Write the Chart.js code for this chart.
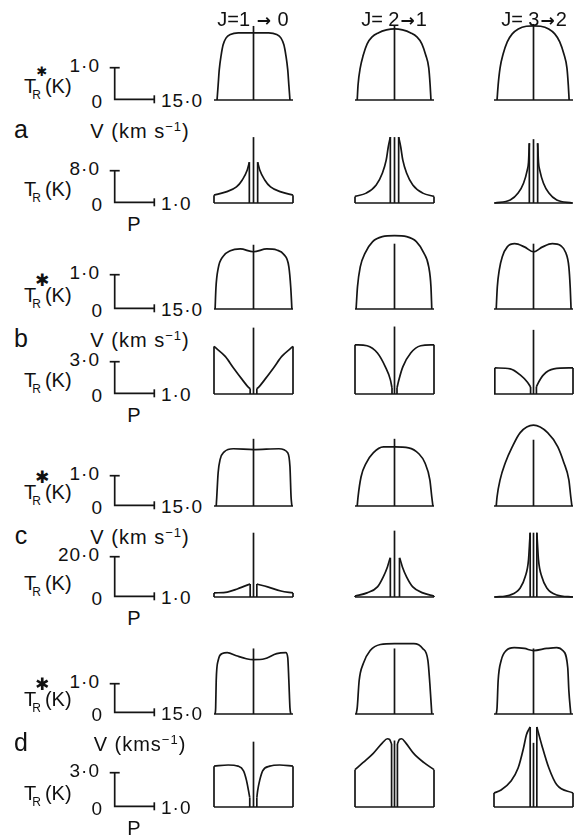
<!DOCTYPE html>
<html>
<head>
<meta charset="utf-8">
<script src="https://cdn.jsdelivr.net/npm/chart.js@4"></script>
<style>
  body { margin: 0; background: #fff; }
  #fig { position: relative; width: 576px; height: 836px; overflow: hidden;
         font-family: "Liberation Sans", Arial, sans-serif; color: #111; }
  #fig canvas { position: absolute; }
  .lbl { position: absolute; white-space: nowrap; line-height: 1; }
  .lbl sup { font-size: 13px; vertical-align: 7px; }
  .sub { font-size: 12px; position: relative; top: 6px; margin-left: -4px; margin-right: 4px; }
  .arr { font-family: "DejaVu Sans", sans-serif; font-weight: bold; font-size: 17px; margin: 0 1px; }
</style>
</head>
<body>
<div id="fig"></div>
<script>
// ---------- data ----------
// column headings and model letters
const transitions = ['J=1 <span class="arr">\u2192</span> 0', 'J= 2<span class="arr">\u2192</span>1', 'J= 3<span class="arr">\u2192</span>2'];
const models = ['a', 'b', 'c', 'd'];

// scale bars: T_R* (K) vs V (km/s) and T_R (K) vs P
const vBarEnd = 15.0;
const pBarEnd = 1.0;
const tStarBar = [1.0, 1.0, 1.0, 1.0];
const tBar = [8.0, 3.0, 20.0, 3.0];
const tStarTick = ['1\u00b70', '1\u00b70', '1\u00b70', '1\u00b70'];
const tTick = ['8\u00b70', '3\u00b70', '20\u00b70', '3\u00b70'];
const vTick = '15\u00b70';
const pTick = '1\u00b70';
const vLabel = ['V (km s<sup>\u22121</sup>)', 'V (km s<sup>\u22121</sup>)', 'V (km s<sup>\u22121</sup>)', 'V (kms<sup>\u22121</sup>)'];

// plotted ranges of each small panel
const vRange = [-14.3, 14.3];
const pRange = [-0.95, 0.95];
const vYMax = [2.45, 2.25, 2.7, 2.45];
const pYMax = [17, 6.6, 33, 7.2];

// line profiles T_R*(V): [V km/s, K]
const aV10 = [[-13.2,0],[-12.8,0.45],[-12.4,0.91],[-11.7,1.36],[-11.0,1.67],[-9.9,1.88],[-8.4,1.98],[-5.5,2.03],[0,2.03],[5.5,2.03],[8.4,1.98],[9.9,1.88],[11.0,1.67],[11.7,1.36],[12.4,0.91],[12.8,0.45],[13.2,0]];
const aV21 = [[-13.5,0],[-13.2,0.45],[-12.4,0.97],[-11.3,1.36],[-9.9,1.70],[-8.1,1.91],[-5.9,2.03],[-2.9,2.12],[0,2.15],[2.9,2.12],[5.9,2.03],[8.1,1.91],[9.9,1.70],[11.3,1.36],[12.4,0.97],[12.9,0.45],[13.2,0]];
const aV32 = [[-13.2,0],[-12.8,0.45],[-12.1,0.97],[-11.0,1.39],[-9.5,1.76],[-7.7,2.0],[-5.5,2.15],[-2.6,2.23],[0,2.24],[2.6,2.23],[5.5,2.15],[7.7,2.0],[9.5,1.76],[11.0,1.39],[12.1,0.97],[12.6,0.45],[12.9,0]];

const bV10 = [[-13.9,0],[-13.6,0.6],[-12.8,1.15],[-11.0,1.5],[-8.4,1.66],[-4.8,1.71],[0,1.63],[4.8,1.71],[8.4,1.68],[11.0,1.55],[12.8,1.2],[13.5,0.6],[13.9,0]];
const bV21 = [[-13.9,0],[-13.4,0.63],[-12.4,1.2],[-10.6,1.6],[-7.9,1.92],[-4.4,2.06],[0,2.09],[4.4,2.06],[7.9,1.92],[10.6,1.6],[12.4,1.2],[13.2,0.63],[13.5,0]];
const bV32 = [[-13.5,0],[-13.1,0.63],[-12.4,1.11],[-11.3,1.49],[-9.5,1.77],[-6.8,1.86],[-3.3,1.77],[0,1.63],[3.3,1.77],[6.8,1.86],[9.9,1.8],[11.7,1.6],[12.8,1.2],[13.3,0.6],[13.6,0]];

const cV10 = [[-13.5,0],[-13.3,0.29],[-12.8,1.07],[-12.1,1.49],[-10.6,1.74],[-7.3,1.84],[0,1.81],[9.2,1.84],[12.4,1.71],[13.2,1.26],[13.6,0.29],[13.9,0]];
const cV21 = [[-13.5,0],[-13.2,0.29],[-12.1,0.94],[-10.2,1.39],[-7.7,1.71],[-4.0,1.90],[0,1.90],[5.1,1.87],[8.8,1.68],[11.0,1.39],[12.8,0.84],[13.5,0.29],[13.9,0]];
const cV32 = [[-13.5,0],[-13.2,0.29],[-12.1,0.84],[-10.2,1.39],[-7.7,1.9],[-4.8,2.36],[0,2.6],[5.1,2.36],[8.8,1.9],[11.0,1.39],[12.8,0.84],[13.5,0.29],[13.9,0]];

const dV10 = [[-13.9,0],[-13.7,0.2],[-13.5,1.1],[-12.8,1.77],[-11.3,2.0],[-9.5,2.03],[-6.2,1.93],[-2.6,1.83],[0,1.8],[4.0,1.83],[8.4,2.0],[11.7,2.03],[12.4,1.87],[12.8,1.1],[13.2,0.2],[13.5,0]];
const dV21 = [[-13.9,0],[-13.5,0.2],[-12.8,1.1],[-11.3,1.67],[-8.8,2.1],[-5.1,2.3],[0,2.33],[7.0,2.33],[10.2,2.17],[12.1,1.77],[12.8,1.0],[13.5,0]];
const dV32 = [[-13.5,0],[-13.2,0.2],[-12.8,1.1],[-11.7,1.77],[-9.9,2.1],[-7.0,2.2],[-3.3,2.17],[0,2.1],[4.8,2.17],[8.4,2.2],[10.6,2.1],[12.4,1.53],[12.8,0.77],[13.5,0]];

// centre line heights of the V panels (K)
const vCentre = [[2.24, 2.24, 2.3], [1.83, 1.86, 1.86], [2.16, 2.16, 2.13], [2.17, 2.17, 2.17]];

// brightness T_R(P): [P, K], left and right halves
const aP10L = [[-0.95,1.9],[-0.66,2.7],[-0.41,3.9],[-0.27,5.6],[-0.15,8.0],[-0.10,9.9]];
const aP10R = [[0.10,9.9],[0.15,8.0],[0.27,5.6],[0.41,3.9],[0.66,2.7],[0.95,1.9]];
const aP21L = [[-0.95,1.6],[-0.68,2.4],[-0.44,4.4],[-0.29,7.3],[-0.20,10.4],[-0.15,13.6],[-0.10,16.0]];
const aP21R = [[0.10,16.0],[0.15,13.6],[0.20,10.4],[0.29,7.3],[0.44,4.4],[0.68,2.4],[0.95,1.6]];
const aP32L = [[-0.93,0],[-0.56,0.7],[-0.37,2.4],[-0.24,4.8],[-0.15,8.0],[-0.12,9.9],[-0.10,14.5]];
const aP32R = [[0.10,14.5],[0.12,9.9],[0.15,8.0],[0.24,4.8],[0.37,2.4],[0.56,0.7],[0.93,0]];

const bP10L = [[-0.95,4.3],[-0.68,3.4],[-0.49,2.4],[-0.27,1.3],[-0.12,0.6],[-0.08,0.5]];
const bP10R = [[0.08,0.5],[0.12,0.6],[0.27,1.3],[0.49,2.4],[0.68,3.4],[0.95,4.3]];
const bP21L = [[-0.95,4.45],[-0.66,4.36],[-0.41,3.7],[-0.22,2.45],[-0.10,1.3],[-0.06,0.55]];
const bP21R = [[0.06,0.55],[0.10,1.2],[0.20,2.45],[0.39,3.7],[0.63,4.36],[0.95,4.45]];
const bP32L = [[-0.93,2.36],[-0.56,2.27],[-0.32,1.73],[-0.15,1.09],[-0.07,0.64]];
const bP32R = [[0.07,0.64],[0.10,0.9],[0.24,1.73],[0.49,2.27],[0.95,2.36]];

const cP10L = [[-0.95,2.0],[-0.63,2.4],[-0.39,3.9],[-0.20,5.4],[-0.08,6.3]];
const cP10R = [[0.08,6.3],[0.34,4.9],[0.66,2.9],[0.95,2.0]];
const cP21L = [[-0.95,0.5],[-0.66,2.0],[-0.41,4.9],[-0.27,9.8],[-0.17,14.6],[-0.12,18.0],[-0.10,19.0]];
const cP21R = [[0.12,19.0],[0.14,18.0],[0.19,14.6],[0.29,9.8],[0.44,4.9],[0.68,2.0],[0.95,0.5]];
const cP32L = [[-0.93,0],[-0.56,1.0],[-0.32,4.4],[-0.20,9.8],[-0.12,18.0],[-0.09,27.8],[-0.08,31.2]];
const cP32R = [[0.08,31.2],[0.09,27.8],[0.12,18.0],[0.20,9.8],[0.32,4.4],[0.56,1.0],[0.95,0]];

const dP10L = [[-0.95,3.5],[-0.61,3.6],[-0.37,3.5],[-0.24,3.1],[-0.17,2.3],[-0.12,1.4],[-0.09,0.8]];
const dP10R = [[0.08,0.8],[0.10,1.4],[0.15,2.3],[0.22,3.1],[0.39,3.5],[0.63,3.6],[0.95,3.5]];
const dP21L = [[-0.95,3.2],[-0.76,3.8],[-0.51,4.6],[-0.29,5.5],[-0.17,5.85],[-0.12,5.8],[-0.07,5.4]];
const dP21R = [[0.07,5.4],[0.12,5.8],[0.17,5.85],[0.27,5.5],[0.46,4.6],[0.71,3.8],[0.95,3.2]];
const dP32L = [[-0.95,1.2],[-0.78,1.46],[-0.54,2.23],[-0.37,3.34],[-0.24,5.06],[-0.17,6.2],[-0.08,6.86]];
const dP32R = [[0.08,6.86],[0.20,5.3],[0.37,3.34],[0.56,1.9],[0.95,1.2]];

// centre spike heights of the P panels (K)
const pCentre = [[16.0, 16.0, 15.5], [6.0, 6.1, 5.8], [31.2, 32.2, 31.2], [5.6, 5.7, 5.5]];

const vProfiles = [[aV10, aV21, aV32], [bV10, bV21, bV32], [cV10, cV21, cV32], [dV10, dV21, dV32]];
const pLeft = [[aP10L, aP21L, aP32L], [bP10L, bP21L, bP32L], [cP10L, cP21L, cP32L], [dP10L, dP21L, dP32L]];
const pRight = [[aP10R, aP21R, aP32R], [bP10R, bP21R, bP32R], [cP10R, cP21R, cP32R], [dP10R, dP21R, dP32R]];

// ---------- layout (pixels) ----------
const colLeft = [214, 355, 494];
const colCentre = [253, 394, 534];
const panelW = 79;
const vRowBase = [100, 309, 506, 713];
const pRowBase = [203, 394, 597, 807];
const vBarPx = [33, 35, 31, 30];
const pBarPx = [33, 33, 41, 35];
const barX = 114, barW = 41;
const PAD = 6;
const INK = '#151515';
const LW = 1.7;

const fig = document.getElementById('fig');

function line(pts, smooth) {
  return {
    data: pts.map(p => ({ x: p[0], y: p[1] })),
    showLine: true,
    pointRadius: 0,
    borderColor: INK,
    borderWidth: LW,
    fill: false,
    clip: false,
    tension: 0,
    cubicInterpolationMode: smooth ? 'monotone' : 'default'
  };
}

function addChart(left, top, w, h, xr, yr, datasets) {
  const c = document.createElement('canvas');
  c.width = w + 2 * PAD;
  c.height = Math.round(h) + 2 * PAD;
  c.style.left = (left - PAD) + 'px';
  c.style.top = Math.round(top - PAD) + 'px';
  fig.appendChild(c);
  new Chart(c, {
    type: 'scatter',
    data: { datasets: datasets },
    options: {
      responsive: false,
      animation: false,
      events: [],
      layout: { padding: PAD },
      plugins: { legend: { display: false }, tooltip: { enabled: false } },
      scales: {
        x: { type: 'linear', min: xr[0], max: xr[1], display: false },
        y: { type: 'linear', min: yr[0], max: yr[1], display: false }
      }
    }
  });
}

function scaleBar(base, px, xEnd, yEnd) {
  const bar = line([[0, yEnd], [0, 0], [xEnd, 0]], false);
  const topTick = {
    data: [{ x: 0, y: yEnd }], pointStyle: 'line', pointRadius: 5, pointRotation: 0,
    pointBorderColor: INK, pointBorderWidth: LW, showLine: false, clip: false
  };
  const endTick = {
    data: [{ x: xEnd, y: 0 }], pointStyle: 'line', pointRadius: 4, pointRotation: 90,
    pointBorderColor: INK, pointBorderWidth: LW, showLine: false, clip: false
  };
  addChart(barX, base - px, barW, px, [0, xEnd], [0, yEnd], [bar, topTick, endTick]);
}

function label(html, x, y, anchor, size, extra) {
  const d = document.createElement('div');
  d.className = 'lbl';
  d.innerHTML = html;
  d.style.left = x + 'px';
  d.style.top = y + 'px';
  d.style.fontSize = size + 'px';
  const tx = anchor === 'r' ? '-100%' : anchor === 'c' ? '-50%' : '0';
  d.style.transform = 'translate(' + tx + ',-50%)';
  if (extra) Object.assign(d.style, extra);
  fig.appendChild(d);
}

// ---------- panels ----------
for (let m = 0; m < 4; m++) {
  // T_R*(V) row
  const vb = vRowBase[m];
  const vh = vYMax[m] * vBarPx[m] / tStarBar[m];
  for (let j = 0; j < 3; j++) {
    const ds = [
      line([[vRange[0], 0], [vRange[1], 0]], false),
      line(vProfiles[m][j], true),
      line([[0, 0], [0, vCentre[m][j]]], false)
    ];
    addChart(colLeft[j], vb - vh, panelW, vh, vRange, [0, vYMax[m]], ds);
  }
  // T_R(P) row
  const pb = pRowBase[m];
  const ph = pYMax[m] * pBarPx[m] / tBar[m];
  for (let j = 0; j < 3; j++) {
    const ds = [line([[pRange[0], 0], [pRange[1], 0]], false)];
    [pLeft[m][j], pRight[m][j]].forEach(c => {
      const a = c[0], b = c[c.length - 1];
      ds.push(line(c, true));
      ds.push(line([[a[0], 0], a], false));
      ds.push(line([b, [b[0], 0]], false));
    });
    ds.push(line([[0, 0], [0, pCentre[m][j]]], false));
    addChart(colLeft[j], pb - ph, panelW, ph, pRange, [0, pYMax[m]], ds);
  }

  // scale bars
  scaleBar(vb, vBarPx[m], vBarEnd, tStarBar[m]);
  scaleBar(pb, pBarPx[m], pBarEnd, tBar[m]);

  // scale bar texts
  label(tStarTick[m], 100, vb - vBarPx[m] - 2, 'r', 19, { letterSpacing: '1px' });
  label('0', 102, vb + 1, 'r', 19);
  label(vTick, 161, vb, 'l', 19, { letterSpacing: '1px' });
  label(tTick[m], 100, pb - pBarPx[m] - 2, 'r', 19, { letterSpacing: '1px' });
  label('0', 102, pb + 1, 'r', 19);
  label(pTick, 161, pb, 'l', 19, { letterSpacing: '1px' });

  // axis names
  label('T<span class="sub">R</span>(K)', 24, vb - 14, 'l', 20);
  label('\u2731', 42, vb - 29, 'c', m === 0 ? 13 : 17, { fontFamily: '"DejaVu Sans", sans-serif' });
  label('T<span class="sub">R</span>(K)', 24, pb - 14, 'l', 20);
  label(vLabel[m], 140, vb + 30, 'c', 20, { letterSpacing: '1px' });
  label('P', 134, pb + 21, 'c', 20);
  label(models[m], 21, vb + 29, 'c', 25);
}

// column headings
for (let j = 0; j < 3; j++) {
  label(transitions[j], colCentre[j], 19, 'c', 20);
}
</script>
</body>
</html>
